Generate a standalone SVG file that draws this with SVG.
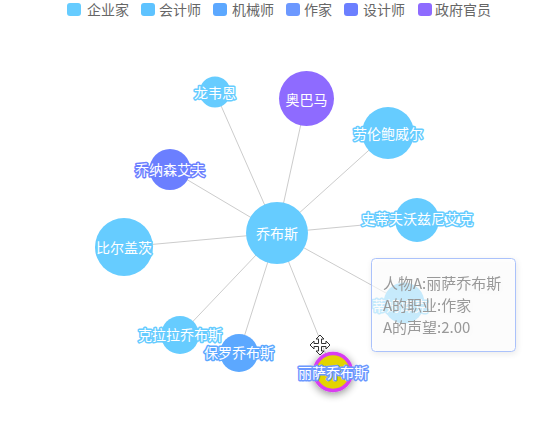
<svg xmlns="http://www.w3.org/2000/svg" width="558" height="432" viewBox="0 0 558 432">
<defs>
<style>
.lg{font-family:"Noto Sans CJK SC","Liberation Sans",sans-serif;font-size:14px;fill:#666;}
.lbl{font-family:"Noto Sans CJK SC","Liberation Sans",sans-serif;font-size:14px;fill:#fff;text-anchor:middle;dominant-baseline:central;paint-order:stroke;stroke-width:3;stroke-linejoin:round;}
.edge{stroke:#ccc;stroke-width:1;fill:none;}
.tt{font-family:"Noto Sans CJK SC","Liberation Sans",sans-serif;font-size:15px;fill:#999;}
</style>
<filter id="sh" x="-60%" y="-60%" width="220%" height="220%">
<feGaussianBlur in="SourceAlpha" stdDeviation="4"/>
<feOffset dx="0" dy="2"/>
<feComponentTransfer><feFuncA type="linear" slope="0.45"/></feComponentTransfer>
<feMerge><feMergeNode/><feMergeNode in="SourceGraphic"/></feMerge>
</filter>
<filter id="tsh" x="-10%" y="-10%" width="120%" height="130%">
<feGaussianBlur in="SourceAlpha" stdDeviation="3"/>
<feOffset dx="1" dy="2"/>
<feComponentTransfer><feFuncA type="linear" slope="0.12"/></feComponentTransfer>
<feMerge><feMergeNode/><feMergeNode in="SourceGraphic"/></feMerge>
</filter>
</defs>
<rect width="558" height="432" fill="#fff"/>

<g id="legend">
<rect x="67" y="3" width="14" height="13" rx="3" fill="#66ccff"/><text class="lg" x="87" y="15">企业家</text>
<rect x="141" y="3" width="14" height="13" rx="3" fill="#5ec3ff"/><text class="lg" x="159" y="15">会计师</text>
<rect x="213" y="3" width="14" height="13" rx="3" fill="#5ca8ff"/><text class="lg" x="232" y="15">机械师</text>
<rect x="286" y="3" width="14" height="13" rx="3" fill="#6c98ff"/><text class="lg" x="304" y="15">作家</text>
<rect x="344" y="3" width="14" height="13" rx="3" fill="#6b7fff"/><text class="lg" x="363" y="15">设计师</text>
<rect x="418" y="3" width="14" height="13" rx="3" fill="#8e6bff"/><text class="lg" x="435" y="15">政府官员</text>
</g>

<g id="edges">
<line class="edge" x1="277" y1="233" x2="124" y2="247"/>
<line class="edge" x1="277" y1="233" x2="215" y2="92"/>
<line class="edge" x1="277" y1="233" x2="306.5" y2="98.5"/>
<line class="edge" x1="277" y1="233" x2="388" y2="133"/>
<line class="edge" x1="277" y1="233" x2="417" y2="220"/>
<line class="edge" x1="277" y1="233" x2="170" y2="169.5"/>
<line class="edge" x1="277" y1="233" x2="180" y2="335"/>
<line class="edge" x1="277" y1="233" x2="239" y2="353"/>
<line class="edge" x1="277" y1="233" x2="333" y2="372"/>
<line class="edge" x1="277" y1="233" x2="404" y2="303"/>
</g>

<g id="n-biergaici"><circle cx="124" cy="247" r="29" fill="#66ccff"/><text class="lbl" x="124" y="247" stroke="#66ccff">比尔盖茨</text></g>
<g id="n-longweien"><circle cx="215" cy="92" r="15.5" fill="#66ccff"/><text class="lbl" x="215" y="92" stroke="#66ccff">龙韦恩</text></g>
<g id="n-aobama"><circle cx="306.5" cy="98.5" r="27.5" fill="#8e6bff"/><text class="lbl" x="306.5" y="98.5" stroke="#8e6bff">奥巴马</text></g>
<g id="n-laolun"><circle cx="388" cy="133" r="26" fill="#66ccff"/><text class="lbl" x="388" y="133" stroke="#66ccff">劳伦鲍威尔</text></g>
<g id="n-shidifu"><circle cx="417" cy="220" r="22" fill="#66ccff"/><text class="lbl" x="417" y="218" stroke="#66ccff">史蒂夫沃兹尼艾克</text></g>
<g id="n-qiaonasen"><circle cx="170" cy="169.5" r="20.5" fill="#6b7fff"/><text class="lbl" x="170" y="168.5" stroke="#6b7fff">乔纳森艾夫</text></g>
<g id="n-kelala"><circle cx="180" cy="335" r="19" fill="#66ccff"/><text class="lbl" x="180" y="334" stroke="#66ccff">克拉拉乔布斯</text></g>
<g id="n-baoluo"><circle cx="239" cy="353" r="19" fill="#5ca8ff"/><text class="lbl" x="239" y="352" stroke="#5ca8ff">保罗乔布斯</text></g>
<g id="n-dimu"><circle cx="404" cy="303" r="20.5" fill="#66ccff"/><text class="lbl" x="400" y="305" stroke="#66ccff">蒂姆库克</text></g>
<g id="n-qiaobusi"><circle cx="277" cy="233" r="31" fill="#66ccff"/><text class="lbl" x="277" y="233" stroke="#66ccff">乔布斯</text></g>
<g id="n-lisa"><circle cx="333" cy="372" r="18.5" fill="#e3d400" stroke="#d83cf0" stroke-width="3.5" filter="url(#sh)"/><text class="lbl" x="333" y="371.5" stroke="#6c98ff">丽萨乔布斯</text></g>

<g id="cursor" transform="translate(320,345)">
<path d="M0,-10 L4,-6 L1.5,-6 L1.5,-1.5 L6,-1.5 L6,-4 L10,0 L6,4 L6,1.5 L1.5,1.5 L1.5,6 L4,6 L0,10 L-4,6 L-1.5,6 L-1.5,1.5 L-6,1.5 L-6,4 L-10,0 L-6,-4 L-6,-1.5 L-1.5,-1.5 L-1.5,-6 L-4,-6 Z" fill="#fff" stroke="#333" stroke-width="1" stroke-linejoin="miter"/>
</g>

<g id="tooltip" filter="url(#tsh)">
<rect x="371.5" y="258.5" width="144" height="93" rx="4" fill="#fff" fill-opacity="0.62" stroke="#abc2fb" stroke-width="1"/>
<text class="tt" x="383" y="289">人物A:丽萨乔布斯</text>
<text class="tt" x="383" y="311">A的职业:作家</text>
<text class="tt" x="383" y="333">A的声望:2.00</text>
</g>
</svg>
